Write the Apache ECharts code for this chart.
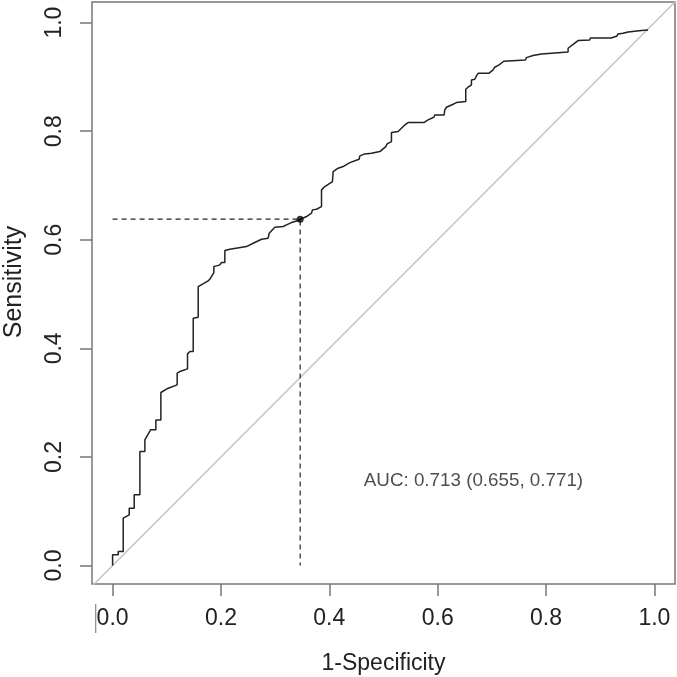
<!DOCTYPE html>
<html>
<head>
<meta charset="utf-8">
<script src="https://cdn.jsdelivr.net/npm/echarts@6/dist/echarts.min.js"></script>
<style>
  html, body { margin: 0; padding: 0; background: #fff; }
  #chart { width: 677px; height: 677px; }
</style>
</head>
<body>
<div id="chart"></div>
<script>
// ROC curve vertices (1-Specificity, Sensitivity)
const fpr = [
  0.000, 0.000, 0.0104, 0.0104, 0.0196, 0.0196, 0.0307, 0.0307, 0.0399, 0.0399,
  0.0504, 0.0504, 0.0596, 0.0596, 0.0627, 0.070, 0.0799, 0.0799, 0.0891, 0.0891,
  0.1026, 0.1192, 0.1192, 0.1242, 0.1383, 0.1383, 0.1426, 0.1488, 0.1488, 0.158,
  0.158, 0.1611, 0.1764, 0.1807, 0.1869, 0.1869, 0.1918, 0.198, 0.201, 0.2072,
  0.2072, 0.2164, 0.2472, 0.2595, 0.2749, 0.2871, 0.289, 0.2994, 0.3148, 0.321,
  0.3302, 0.3425, 0.3468,
  0.3579, 0.3671, 0.3689, 0.3763, 0.3856, 0.3856, 0.3917, 0.4058, 0.4071, 0.4163,
  0.4255, 0.4274, 0.4378, 0.455, 0.4563, 0.4655, 0.4778, 0.4932, 0.5042, 0.5067,
  0.5147, 0.5147, 0.527, 0.5331, 0.5393, 0.5454, 0.5744, 0.5823, 0.5928, 0.5947,
  0.6119, 0.6131, 0.6162, 0.6285, 0.6346, 0.6518, 0.6518, 0.6562, 0.6623, 0.6623,
  0.6685, 0.6715, 0.6746, 0.6943, 0.7023, 0.7053, 0.7133, 0.7146, 0.722, 0.7238,
  0.7619, 0.7638, 0.7761, 0.7915, 0.7915, 0.8407, 0.8407, 0.8487, 0.8591, 0.8806,
  0.8819, 0.9206, 0.931, 0.9329, 0.9421, 0.9514, 0.9637, 0.976, 0.9883
];
const tpr = [
  0.000, 0.0197, 0.0197, 0.0258, 0.0258, 0.0872, 0.0934, 0.1057, 0.1057, 0.1302,
  0.1302, 0.210, 0.210, 0.2315, 0.2346, 0.250, 0.250, 0.2683, 0.2683, 0.3187,
  0.3266, 0.3328, 0.3543, 0.3573, 0.3622, 0.3899, 0.3942, 0.3942, 0.4556, 0.4574,
  0.5139, 0.517, 0.5243, 0.5292, 0.5397, 0.5507, 0.552, 0.5538, 0.5581, 0.5581,
  0.5802, 0.5826, 0.5875, 0.5937, 0.601, 0.6029, 0.6121, 0.6232, 0.6244, 0.6274,
  0.6317, 0.6354, 0.6379,
  0.6428, 0.6489, 0.6551, 0.6563, 0.6612, 0.6919, 0.698, 0.7073, 0.7257, 0.7318,
  0.7349, 0.7379, 0.7422, 0.7484, 0.7545, 0.7582, 0.7594, 0.7625, 0.7717, 0.7766,
  0.7809, 0.7975, 0.7993, 0.8055, 0.8116, 0.8159, 0.8159, 0.8208, 0.8257, 0.83,
  0.83, 0.8392, 0.8441, 0.8497, 0.8527, 0.8546, 0.8773, 0.881, 0.8853, 0.8945,
  0.8957, 0.9018, 0.9067, 0.9067, 0.9129, 0.9178, 0.9221, 0.9252, 0.9289, 0.9313,
  0.9313, 0.9356, 0.9393, 0.9424, 0.946, 0.946, 0.9528, 0.9589, 0.9669, 0.9681,
  0.9718, 0.9718, 0.9755, 0.9792, 0.9804, 0.9829, 0.9841, 0.9853, 0.9865
];
// best threshold point
const bestPoint = [0.3462, 0.638];
// chance diagonal
const diagonal = [[-0.1, -0.1], [1.1, 1.1]];
// axis ticks
const tickValues = [0, 0.2, 0.4, 0.6, 0.8, 1.0];
const tickLabels = ['0.0', '0.2', '0.4', '0.6', '0.8', '1.0'];
const aucText = 'AUC: 0.713 (0.655, 0.771)';
const xTitle = '1-Specificity';
const yTitle = 'Sensitivity';

const curve = fpr.map((x, i) => [x, tpr[i]]);
const FONT = '"Liberation Sans", Arial, sans-serif';
const fmt = v => {
  const i = tickValues.findIndex(t => Math.abs(t - v) < 1e-9);
  return i >= 0 ? tickLabels[i] : '';
};

const chart = echarts.init(document.getElementById('chart'), null, { renderer: 'canvas' });
chart.setOption({
  animation: false,
  backgroundColor: '#ffffff',
  grid: { left: 92, right: 2, top: 2, bottom: 93, show: true, borderColor: '#777', borderWidth: 1.5,
    backgroundColor: 'transparent', containLabel: false, outerBoundsMode: 'none' },
  xAxis: {
    type: 'value', min: -0.038, max: 1.038,
    splitLine: { show: false },
    axisLine: { show: false, onZero: false },
    axisTick: { show: true, inside: false, length: 12, customValues: tickValues, lineStyle: { color: '#777', width: 1.5 } },
    axisLabel: { customValues: tickValues, formatter: fmt, fontSize: 23, color: '#222', margin: 23, fontFamily: FONT },
    name: xTitle, nameLocation: 'middle', nameGap: 68,
    nameTextStyle: { fontSize: 23, color: '#222', fontFamily: FONT }
  },
  yAxis: {
    type: 'value', min: -0.034, max: 1.038,
    splitLine: { show: false },
    axisLine: { show: false, onZero: false },
    axisTick: { show: true, inside: false, length: 12, customValues: tickValues, lineStyle: { color: '#777', width: 1.5 } },
    axisLabel: { customValues: tickValues, formatter: fmt, fontSize: 23, color: '#222', margin: 26, rotate: 90, fontFamily: FONT },
    name: yTitle, nameLocation: 'middle', nameGap: 65,
    nameTextStyle: { fontSize: 25, color: '#222', fontFamily: FONT, padding: [0, 0, 0, 22] }
  },
  graphic: [{
    type: 'line', shape: { x1: 95.7, y1: 604, x2: 95.7, y2: 633 },
    style: { stroke: '#888', lineWidth: 1.2 }
  }],
  series: [
    {
      type: 'line', data: diagonal, symbol: 'none', clip: true,
      lineStyle: { color: '#c4c4c4', width: 1.5 }, z: 1
    },
    {
      type: 'line', data: curve, symbol: 'none',
      lineStyle: { color: '#222', width: 1.5 }, z: 3
    },
    {
      type: 'line', data: [[0, bestPoint[1]], bestPoint, [bestPoint[0], 0]], symbol: 'none',
      lineStyle: { color: '#222', width: 1.2, type: [5, 4] }, z: 2
    },
    {
      type: 'scatter', data: [bestPoint], symbol: 'circle', symbolSize: 7,
      itemStyle: { color: '#000' }, z: 4
    },
    {
      type: 'scatter', data: [[0.4637, 0.156]], symbolSize: 0, silent: true,
      label: { show: true, position: 'right', distance: 0, formatter: aucText,
        fontSize: 18.8, color: '#222', fontFamily: FONT }
    }
  ]
});
</script>
</body>
</html>
